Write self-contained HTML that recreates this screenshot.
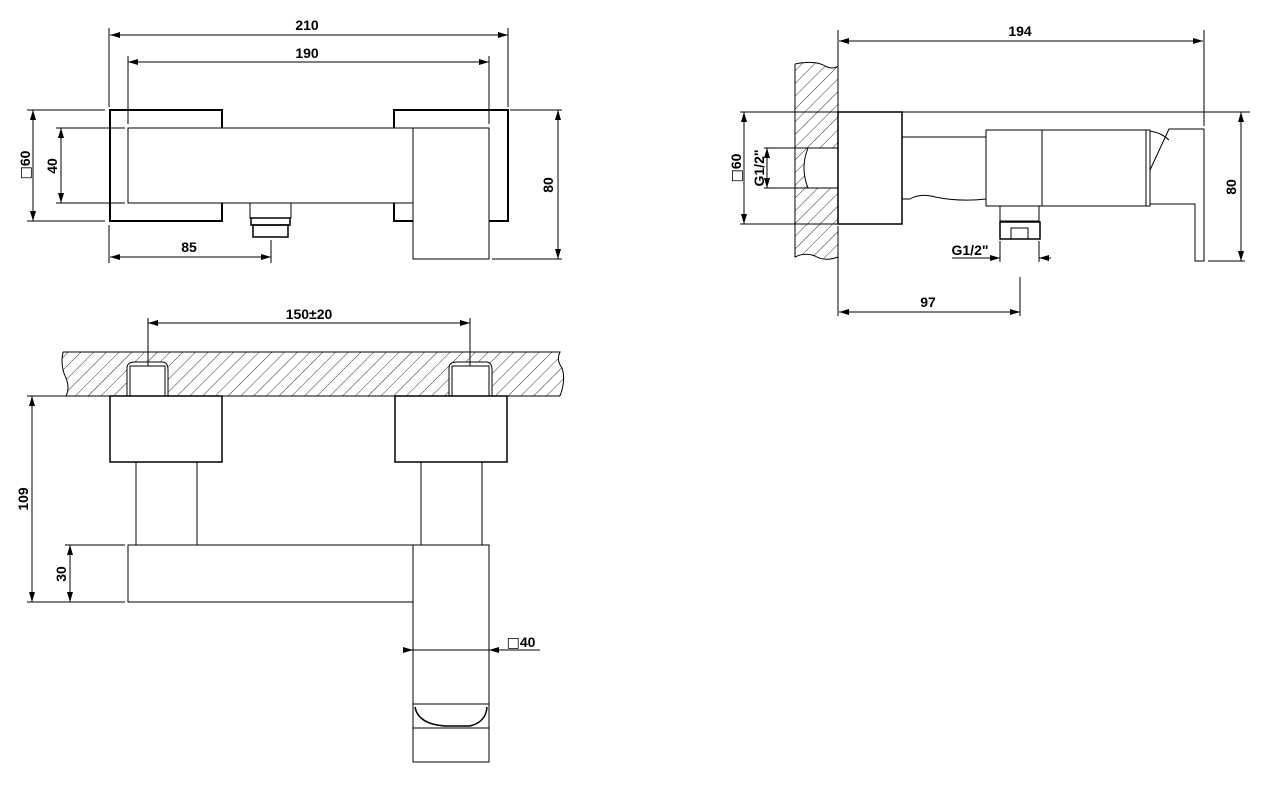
<!DOCTYPE html>
<html><head><meta charset="utf-8"><style>
html,body{margin:0;padding:0;background:#fff;}
svg{display:block;}
text{font-family:"Liberation Sans",sans-serif;font-weight:bold;font-size:14px;fill:#000;}
.sq{font-family:"DejaVu Sans",sans-serif;font-weight:normal;}
</style></head><body>
<svg width="1265" height="788" viewBox="0 0 1265 788" xmlns="http://www.w3.org/2000/svg">
<defs>
<pattern id="h" width="9" height="9" patternUnits="userSpaceOnUse" patternTransform="rotate(45)">
<line x1="0" y1="0" x2="0" y2="9" stroke="#000" stroke-width="0.8"/>
</pattern>
<marker id="a" viewBox="0 0 10 6" refX="10" refY="3" markerWidth="10" markerHeight="6" orient="auto-start-reverse" markerUnits="userSpaceOnUse">
<path d="M0,0 L10,3 L0,6 z" fill="#000"/>
</marker>
</defs>
<g fill="none" stroke="#000" stroke-width="1">
<line x1="110" y1="35" x2="508" y2="35" marker-start="url(#a)" marker-end="url(#a)"/>
<line x1="128" y1="62" x2="489" y2="62" marker-start="url(#a)" marker-end="url(#a)"/>
<line x1="109" y1="28" x2="109" y2="107"/>
<line x1="508" y1="28" x2="508" y2="107"/>
<line x1="128" y1="56" x2="128" y2="124"/>
<line x1="489" y1="56" x2="489" y2="124"/>
<path d="M222,128 V110 H110 V221 H222 V203" stroke-width="2"/>
<path d="M394,128 V110 H508 V221 H489" stroke-width="2"/>
<path d="M394,203 V221 H413" stroke-width="2"/>
<rect x="128" y="128" width="285" height="75"/>
<rect x="413" y="128" width="76" height="131"/>
<path d="M250,203 V218 H291 V203"/>
<rect x="251" y="218" width="39" height="7" stroke-width="1.5"/>
<rect x="253" y="225" width="35" height="12" stroke-width="1.5"/>
<line x1="110" y1="257" x2="271" y2="257" marker-start="url(#a)" marker-end="url(#a)"/>
<line x1="109" y1="225" x2="109" y2="263"/>
<line x1="271" y1="240" x2="271" y2="263"/>
<line x1="558" y1="110" x2="558" y2="259" marker-start="url(#a)" marker-end="url(#a)"/>
<line x1="510" y1="110" x2="562" y2="110"/>
<line x1="492" y1="259" x2="562" y2="259"/>
<line x1="33" y1="110" x2="33" y2="221" marker-start="url(#a)" marker-end="url(#a)"/>
<line x1="27" y1="110" x2="105" y2="110"/>
<line x1="27" y1="221" x2="105" y2="221"/>
<line x1="61" y1="128" x2="61" y2="203" marker-start="url(#a)" marker-end="url(#a)"/>
<line x1="56" y1="128" x2="125" y2="128"/>
<line x1="56" y1="203" x2="125" y2="203"/>

<path d="M795,64 Q815,60 825,66 Q833,70 838,66 V257 Q825,262 815,256 Q805,252 795,257 Z" fill="url(#h)" stroke="none"/>
<path d="M795,64 Q815,60 825,66 Q833,70 838,66 M795,64 V257 Q805,252 815,256 Q825,262 838,257"/>
<path d="M838,148 H808 Q800,168 808,188 H838" fill="#fff"/>
<line x1="838" y1="30" x2="838" y2="112"/>
<line x1="838" y1="226" x2="838" y2="316"/>
<line x1="839" y1="41" x2="1203" y2="41" marker-start="url(#a)" marker-end="url(#a)"/>
<line x1="1204" y1="30" x2="1204" y2="126"/>
<line x1="740" y1="112" x2="1250" y2="112"/>
<rect x="838" y="112" width="64" height="112" stroke-width="1.5"/>
<path d="M902,137 H986 M902,199 H910 Q920,193 935,197 Q960,202 986,199"/>
<rect x="986" y="130" width="56" height="76"/>
<rect x="1042" y="130" width="104" height="76"/>
<rect x="1146" y="130" width="4" height="76"/>
<path d="M1150,131 Q1162,133 1169,140"/>
<path d="M1150,170 L1169,129 H1204 V261 H1195 V204 H1150"/>
<path d="M1000,206 V221 H1039 V206"/>
<rect x="1000" y="222" width="40" height="17" stroke-width="1.5"/>
<rect x="1011" y="228" width="17" height="11"/>
<line x1="985" y1="258" x2="1000" y2="258" marker-end="url(#a)"/>
<line x1="1051" y1="258" x2="1039" y2="258" marker-end="url(#a)"/>
<line x1="1000" y1="241" x2="1000" y2="262"/>
<line x1="1039" y1="241" x2="1039" y2="262"/>
<line x1="952" y1="258" x2="985" y2="258"/>
<line x1="839" y1="312" x2="1020" y2="312" marker-start="url(#a)" marker-end="url(#a)"/>
<line x1="1020" y1="277" x2="1020" y2="316"/>
<line x1="1241" y1="112" x2="1241" y2="261" marker-start="url(#a)" marker-end="url(#a)"/>
<line x1="1208" y1="261" x2="1245" y2="261"/>
<line x1="744" y1="112" x2="744" y2="224" marker-start="url(#a)" marker-end="url(#a)"/>
<line x1="740" y1="224" x2="838" y2="224"/>
<line x1="767" y1="148" x2="767" y2="188" marker-start="url(#a)" marker-end="url(#a)"/>
<line x1="764" y1="148" x2="808" y2="148"/>
<line x1="764" y1="188" x2="808" y2="188"/>

<path d="M63,352 H560 Q556,360 562,368 Q566,380 560,396 H66 Q70,388 66,378 Q60,366 63,352 Z" fill="url(#h)" stroke="none"/>
<path d="M63,352 H560 Q556,360 562,368 Q566,380 560,396 M63,352 Q60,366 66,378 Q70,388 66,396"/>
<line x1="62" y1="396" x2="560" y2="396"/>
<path d="M127,396 V368 Q127,362 135,362 H162 Q168,362 168,370 V396" fill="#fff"/>
<path d="M449,396 V368 Q449,362 457,362 H486 Q492,362 492,370 V396" fill="#fff"/>
<rect x="130" y="366" width="35" height="30"/>
<rect x="452" y="366" width="37" height="30"/>
<line x1="148" y1="323" x2="470" y2="323" marker-start="url(#a)" marker-end="url(#a)"/>
<line x1="148" y1="318" x2="148" y2="366"/>
<line x1="470" y1="318" x2="470" y2="366"/>
<rect x="110" y="396" width="112" height="66" stroke-width="1.5"/>
<rect x="395" y="396" width="112" height="66" stroke-width="1.5"/>
<path d="M136,462 V545 M197,462 V545 M421,462 V545 M482,462 V545"/>
<path d="M128,545 H413 V602 H128 Z"/>
<rect x="413" y="545" width="76" height="217"/>
<line x1="413" y1="704" x2="489" y2="704"/>
<path d="M415,707 Q418,724 445,726 H470 Q486,722 487,707" stroke-width="1.5"/>
<line x1="413" y1="728" x2="489" y2="728"/>
<line x1="403" y1="650" x2="413" y2="650" marker-end="url(#a)"/>
<line x1="500" y1="650" x2="489" y2="650" marker-end="url(#a)"/>
<line x1="413" y1="650" x2="489" y2="650"/>
<line x1="500" y1="650" x2="540" y2="650"/>
<line x1="32" y1="396" x2="32" y2="602" marker-start="url(#a)" marker-end="url(#a)"/>
<line x1="27" y1="396" x2="62" y2="396"/>
<line x1="27" y1="602" x2="125" y2="602"/>
<line x1="70" y1="545" x2="70" y2="602" marker-start="url(#a)" marker-end="url(#a)"/>
<line x1="65" y1="545" x2="125" y2="545"/>
</g>

<text x="307" y="30" text-anchor="middle">210</text>
<text x="307" y="58" text-anchor="middle">190</text>
<text x="189" y="252" text-anchor="middle">85</text>
<text transform="translate(553,185) rotate(-90)" text-anchor="middle">80</text>
<text transform="translate(30,165) rotate(-90)" text-anchor="middle"><tspan class="sq">□</tspan>60</text>
<text transform="translate(57,166) rotate(-90)" text-anchor="middle">40</text>

<text x="1020" y="36" text-anchor="middle">194</text>
<text x="928" y="307" text-anchor="middle">97</text>
<text x="970" y="255" text-anchor="middle">G1/2"</text>
<text transform="translate(1236,187) rotate(-90)" text-anchor="middle">80</text>
<text transform="translate(741,168) rotate(-90)" text-anchor="middle"><tspan class="sq">□</tspan>60</text>
<text transform="translate(764,168) rotate(-90)" text-anchor="middle">G1/2"</text>

<text x="309" y="319" text-anchor="middle">150±20</text>
<text x="521" y="647" text-anchor="middle"><tspan class="sq">□</tspan>40</text>
<text transform="translate(28,499) rotate(-90)" text-anchor="middle">109</text>
<text transform="translate(66,574) rotate(-90)" text-anchor="middle">30</text>
</svg>
</body></html>
